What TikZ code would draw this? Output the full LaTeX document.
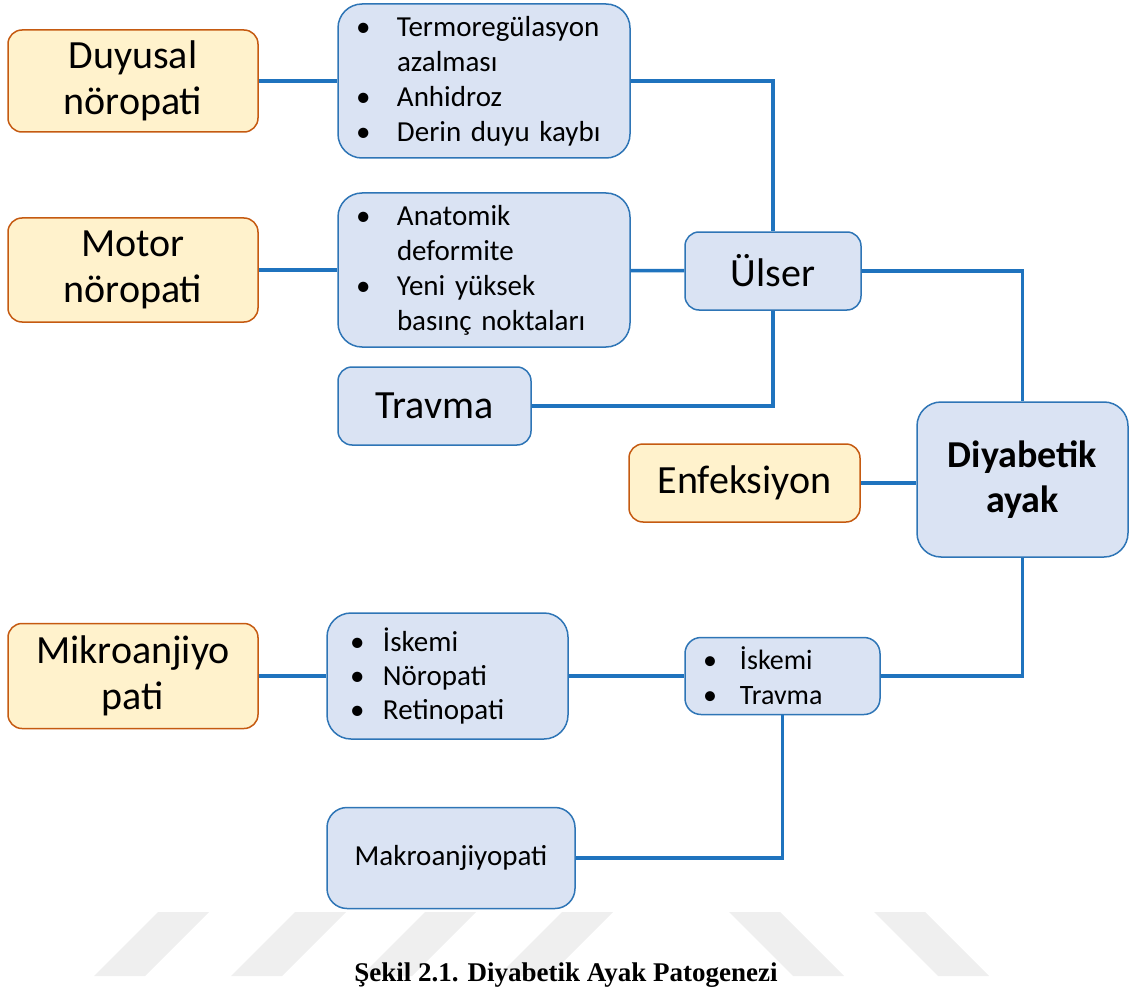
\documentclass[tikz,border=0pt]{standalone}
\usepackage{fontspec}
\setmainfont{Carlito}
\newfontfamily\capfont{Liberation Serif}
\usetikzlibrary{positioning}

\definecolor{boxblue}{HTML}{DAE3F3}
\definecolor{edgeblue}{HTML}{2E75B6}
\definecolor{boxorange}{HTML}{FFF2CC}
\definecolor{edgeorange}{HTML}{C55A11}
\definecolor{linkblue}{HTML}{1F73BE}
\definecolor{markgray}{HTML}{EFEFEF}

\newcommand{\bitem}[2][41pt]{\makebox[#1][l]{\textbullet}#2}
\newcommand{\bcont}[2][41pt]{\hspace*{#1}#2}

\begin{document}
\begin{tikzpicture}[
    x=1pt, y=-1pt,
    orangebox/.style={
        draw=edgeorange,
        fill=boxorange,
        line width=1.5pt,
        rounded corners=14pt,
        inner sep=0pt,
        minimum width=250pt,
        align=center,
        font=\fontsize{40}{46}\selectfont
    },
    bluebox/.style={
        draw=edgeblue,
        fill=boxblue,
        line width=1.5pt,
        rounded corners=14pt,
        inner sep=0pt,
        align=center,
        font=\fontsize{40}{46}\selectfont
    },
    listbox/.style={
        bluebox,
        rounded corners=24pt,
        align=left,
        font=\fontsize{29}{35}\selectfont
    },
    link/.style={draw=linkblue, line width=3.5pt}
]
\useasboundingbox (0,0) rectangle (1132,987);

% watermark stripes
\foreach \sx in {94,231,361,498}
    \fill[markgray] (\sx,976) -- (\sx+64,912) -- (\sx+115,912) -- (\sx+51,976) -- cycle;
\foreach \sx in {729,874}
    \fill[markgray] (\sx,912) -- (\sx+51,912) -- (\sx+115,976) -- (\sx+64,976) -- cycle;

\node[orangebox, minimum height=102pt] (duyusal) at (133,81) {Duyusal\\nöropati};
\node[listbox, minimum width=292pt, minimum height=154pt, text width=256pt] (termo) at (484,81) {\bitem{Termoregülasyon}\\\bcont{azalması}\\\bitem{Anhidroz}\\\bitem{Derin duyu kaybı}};

\node[orangebox, minimum height=104pt] (motor) at (133,270) {Motor\\nöropati};
\node[listbox, minimum width=292pt, minimum height=154pt, text width=256pt] (anatomik) at (484,270) {\bitem{Anatomik}\\\bcont{deformite}\\\bitem{Yeni yüksek}\\\bcont{basınç noktaları}};
\node[bluebox, minimum width=193pt, minimum height=78pt] (travma) at (434.5,406) {Travma};

\node[bluebox, minimum width=176pt, minimum height=78pt] (ulser) at (773,271) {Ülser};
\node[orangebox, minimum width=231pt, minimum height=78pt] (enfeksiyon) at (744.5,483) {Enfeksiyon};
\node[bluebox, rounded corners=24pt, minimum width=211pt, minimum height=155pt, font=\bfseries\fontsize{38}{45}\selectfont] (diyabetik) at (1022.5,479.5) {Diyabetik\\ayak};

\node[orangebox, minimum height=105pt] (mikro) at (133,676) {Mikroanjiyo\\pati};
\node[listbox, minimum width=241pt, minimum height=126pt, text width=195pt, font=\fontsize{29}{34}\selectfont] (mikrolist) at (447.5,676) {\bitem[33pt]{İskemi}\\\bitem[33pt]{Nöropati}\\\bitem[33pt]{Retinopati}};
\node[listbox, rounded corners=16pt, minimum width=195pt, minimum height=77pt, text width=159pt, font=\fontsize{28}{35}\selectfont] (iskemi) at (782.5,676) {\bitem[37pt]{İskemi}\\\bitem[37pt]{Travma}};
\node[bluebox, rounded corners=20pt, minimum width=248pt, minimum height=101pt, font=\fontsize{29}{34}\selectfont] (makro) at (451,858) {Makroanjiyopati};

\node[anchor=base, font=\capfont\bfseries\fontsize{27}{30}\selectfont] (caption) at (566,981) {Şekil 2.1. Diyabetik Ayak Patogenezi};

\draw[link] (duyusal) -- (termo);
\draw[link] (termo.east) -| (ulser.north);
\draw[link] (motor) -- (anatomik);
\draw[link] (anatomik) -- (ulser);
\draw[link] (travma.east) -| (ulser.south);
\draw[link] (ulser.east) -| (diyabetik.north);
\draw[link] (enfeksiyon.east) -- (enfeksiyon.east -| diyabetik.west);
\draw[link] (diyabetik.south) |- (iskemi.east);
\draw[link] (mikro) -- (mikrolist);
\draw[link] (mikrolist) -- (iskemi);
\draw[link] (iskemi.south) |- (makro.east);

\end{tikzpicture}
\end{document}
